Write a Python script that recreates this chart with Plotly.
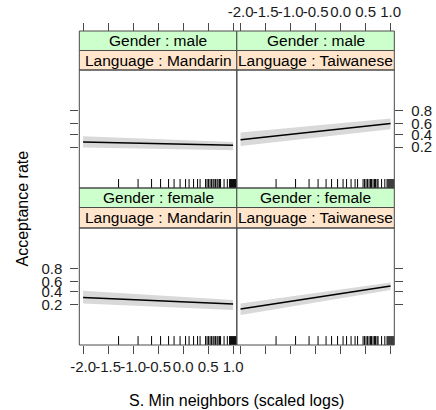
import numpy as np
import plotly.graph_objects as go

# ---------------- data ----------------
x_pts = [-2.0, 1.0]  # S. Min neighbors (scaled logs), ends of the fitted effect

genders = ["male", "male", "female", "female"]
languages = ["Mandarin", "Taiwanese", "Mandarin", "Taiwanese"]

# fitted acceptance rate and confidence band (probability scale) at x_pts
fit_male_mandarin = [0.269, 0.222]
lo_male_mandarin = [0.193, 0.163]
hi_male_mandarin = [0.363, 0.269]

fit_male_taiwanese = [0.306, 0.602]
lo_male_taiwanese = [0.212, 0.495]
hi_male_taiwanese = [0.431, 0.690]

fit_female_mandarin = [0.300, 0.204]
lo_female_mandarin = [0.212, 0.138]
hi_female_mandarin = [0.418, 0.259]

fit_female_taiwanese = [0.148, 0.508]
lo_female_taiwanese = [0.098, 0.431]
hi_female_taiwanese = [0.212, 0.579]

# rug: observed predictor values
rug_x = [-1.29, -0.90, -0.63, -0.45, -0.29, -0.18, -0.06, 0.05, 0.12, 0.21,
         0.29, 0.34, 0.45, 0.48, 0.51, 0.54, 0.57, 0.60, 0.62, 0.65, 0.68,
         0.70, 0.73, 0.75, 0.82, 0.885, 0.93, 0.95, 0.97, 0.99, 1.01, 1.03,
         1.05, 1.07]

x_ticks = [-2.0, -1.5, -1.0, -0.5, 0.0, 0.5, 1.0]
x_tick_labels = ["-2.0", "-1.5", "-1.0", "-0.5", "0.0", "0.5", "1.0"]
y_ticks = [0.2, 0.4, 0.6, 0.8]
y_tick_labels = ["0.2", "0.4", "0.6", "0.8"]

# ---------------- helpers ----------------
def logit(p):
    p = np.asarray(p, dtype=float)
    return np.log(p / (1 - p))

W, H = 436, 410
FONT = "Liberation Sans, Arial, sans-serif"
LINE = "#4a4a4a"
XR = [-2.075, 1.075]
YR = [-4.54, 4.54]

colx = [(73, 236.5), (236.5, 400)]
rowy = [(70, 188), (228, 345)]          # plot areas (px from top)
strip_top = [31, 188]                  # strip block top (px)
strip_h = 19.5

def px_x(v):
    return v / W

def px_y(v):
    return 1 - v / H

panels = [
    (fit_male_mandarin, lo_male_mandarin, hi_male_mandarin),
    (fit_male_taiwanese, lo_male_taiwanese, hi_male_taiwanese),
    (fit_female_mandarin, lo_female_mandarin, hi_female_mandarin),
    (fit_female_taiwanese, lo_female_taiwanese, hi_female_taiwanese),
]

fig = go.Figure()
shapes = []
annotations = []

rug_h = 9 / 13.0  # rug tick length in logit units
for i, (fit, lo, hi) in enumerate(panels):
    r, c = divmod(i, 2)
    xa = "x" if i == 0 else f"x{i+1}"
    ya = "y" if i == 0 else f"y{i+1}"
    band_x = list(x_pts) + list(x_pts)[::-1]
    band_y = list(logit(hi)) + list(logit(lo))[::-1]
    fig.add_trace(go.Scatter(x=band_x, y=band_y, fill="toself", fillcolor="#d9d9d9",
                             line=dict(width=0), mode="lines", hoverinfo="skip",
                             xaxis=xa, yaxis=ya, showlegend=False))
    fig.add_trace(go.Scatter(x=x_pts, y=logit(fit), mode="lines",
                             line=dict(color="black", width=1.5),
                             xaxis=xa, yaxis=ya, showlegend=False))
    rx, ry = [], []
    for v in rug_x:
        rx += [v, v, None]
        ry += [YR[0], YR[0] + rug_h, None]
    fig.add_trace(go.Scatter(x=rx, y=ry, mode="lines",
                             line=dict(color="black", width=1),
                             xaxis=xa, yaxis=ya, showlegend=False, hoverinfo="skip"))

    x0, x1 = colx[c]
    y0, y1 = rowy[r]
    st = strip_top[r]
    # strips
    shapes.append(dict(type="rect", xref="paper", yref="paper",
                       x0=px_x(x0), x1=px_x(x1), y0=px_y(st + strip_h), y1=px_y(st),
                       fillcolor="#ccffcc", line=dict(color=LINE, width=1), layer="below"))
    shapes.append(dict(type="rect", xref="paper", yref="paper",
                       x0=px_x(x0), x1=px_x(x1), y0=px_y(y0), y1=px_y(st + strip_h),
                       fillcolor="#ffe5cc", line=dict(color=LINE, width=1), layer="below"))
    # panel border
    shapes.append(dict(type="rect", xref="paper", yref="paper",
                       x0=px_x(x0), x1=px_x(x1), y0=px_y(y1), y1=px_y(y0),
                       fillcolor="rgba(0,0,0,0)", line=dict(color=LINE, width=1)))
    xc = px_x((x0 + x1) / 2)
    annotations.append(dict(text=f"Gender : {genders[i]}", x=xc, y=px_y(st + strip_h / 2),
                            xref="paper", yref="paper", showarrow=False,
                            font=dict(family=FONT, size=15.5, color="black"),
                            xanchor="center", yanchor="middle"))
    annotations.append(dict(text=f"Language : {languages[i]}", x=xc,
                            y=px_y((st + strip_h + y0) / 2),
                            xref="paper", yref="paper", showarrow=False,
                            font=dict(family=FONT, size=15.5, color="black"),
                            xanchor="center", yanchor="middle"))

tickfont = dict(family=FONT, size=15, color="#1a1a1a")
common_x = dict(range=XR, tickvals=x_ticks, ticktext=x_tick_labels, ticks="outside",
                ticklen=8, tickcolor=LINE, tickwidth=1, showgrid=False, zeroline=False,
                showline=False, tickfont=tickfont, fixedrange=True, tickangle=0)
common_y = dict(range=YR, tickvals=list(logit(y_ticks)), ticktext=y_tick_labels,
                ticks="outside", ticklen=8, tickcolor=LINE, tickwidth=1, showgrid=False,
                zeroline=False, showline=False, tickfont=tickfont, fixedrange=True,
                ticklabelstandoff=5)

xd = [[px_x(a), px_x(b)] for a, b in colx]
yd = [[px_y(b), px_y(a)] for a, b in rowy]

layout = dict(
    width=W, height=H, margin=dict(l=0, r=0, t=0, b=0),
    paper_bgcolor="white", plot_bgcolor="white",
    font=dict(family=FONT),
    xaxis=dict(common_x, domain=xd[0], anchor="free", position=px_y(31), side="top",
               showticklabels=False),
    xaxis2=dict(common_x, domain=xd[1], anchor="free", position=px_y(31), side="top",
                showticklabels=True),
    xaxis3=dict(common_x, domain=xd[0], anchor="y3", side="bottom", showticklabels=True),
    xaxis4=dict(common_x, domain=xd[1], anchor="y4", side="bottom", showticklabels=False),
    yaxis=dict(common_y, domain=yd[0], anchor="x", side="left", showticklabels=False),
    yaxis2=dict(common_y, domain=yd[0], anchor="x2", side="right", showticklabels=True),
    yaxis3=dict(common_y, domain=yd[1], anchor="x3", side="left", showticklabels=True),
    yaxis4=dict(common_y, domain=yd[1], anchor="x4", side="right", showticklabels=False),
    shapes=shapes,
)

annotations.append(dict(text="S. Min neighbors (scaled logs)", x=px_x(236.5), y=px_y(400),
                        xref="paper", yref="paper", showarrow=False,
                        font=dict(family=FONT, size=16, color="black"),
                        xanchor="center", yanchor="middle"))
annotations.append(dict(text="Acceptance rate", x=px_x(14), y=px_y(208),
                        xref="paper", yref="paper", showarrow=False, textangle=-90,
                        font=dict(family=FONT, size=16, color="black"),
                        xanchor="center", yanchor="middle"))
layout["annotations"] = annotations
fig.update_layout(**layout)
fig.write_html("out.html")
